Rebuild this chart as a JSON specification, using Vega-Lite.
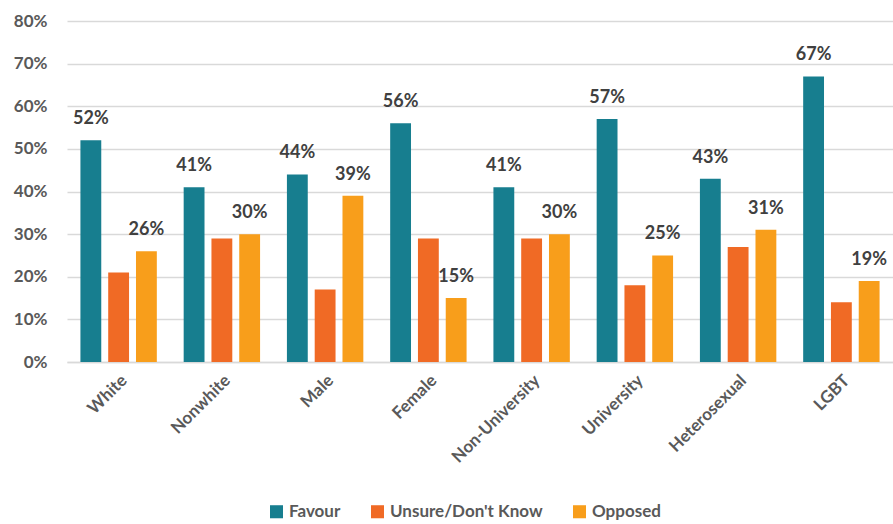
{
  "$schema": "https://vega.github.io/schema/vega-lite/v6.json",
  "width": 826,
  "height": 341,
  "autosize": "none",
  "padding": {"left": 67, "top": 21, "right": 0, "bottom": 162},
  "background": "white",
  "config": {"view": {"stroke": null}, "font": "Lato"},
  "data": {
    "values": [
      {"group": "White", "series": "Favour", "value": 0.52},
      {"group": "White", "series": "Unsure/Don't Know", "value": 0.21},
      {"group": "White", "series": "Opposed", "value": 0.26},
      {"group": "Nonwhite", "series": "Favour", "value": 0.41},
      {"group": "Nonwhite", "series": "Unsure/Don't Know", "value": 0.29},
      {"group": "Nonwhite", "series": "Opposed", "value": 0.30},
      {"group": "Male", "series": "Favour", "value": 0.44},
      {"group": "Male", "series": "Unsure/Don't Know", "value": 0.17},
      {"group": "Male", "series": "Opposed", "value": 0.39},
      {"group": "Female", "series": "Favour", "value": 0.56},
      {"group": "Female", "series": "Unsure/Don't Know", "value": 0.29},
      {"group": "Female", "series": "Opposed", "value": 0.15},
      {"group": "Non-University", "series": "Favour", "value": 0.41},
      {"group": "Non-University", "series": "Unsure/Don't Know", "value": 0.29},
      {"group": "Non-University", "series": "Opposed", "value": 0.30},
      {"group": "University", "series": "Favour", "value": 0.57},
      {"group": "University", "series": "Unsure/Don't Know", "value": 0.18},
      {"group": "University", "series": "Opposed", "value": 0.25},
      {"group": "Heterosexual", "series": "Favour", "value": 0.43},
      {"group": "Heterosexual", "series": "Unsure/Don't Know", "value": 0.27},
      {"group": "Heterosexual", "series": "Opposed", "value": 0.31},
      {"group": "LGBT", "series": "Favour", "value": 0.67},
      {"group": "LGBT", "series": "Unsure/Don't Know", "value": 0.14},
      {"group": "LGBT", "series": "Opposed", "value": 0.19}
    ]
  },
  "encoding": {
    "x": {
      "field": "group", "type": "nominal", "sort": null, "title": null,
      "scale": {"paddingInner": 0.26, "paddingOuter": 0.13},
      "axis": {
        "labelAngle": -45, "labelFontSize": 17, "labelFontWeight": "bold",
        "labelColor": "#595959", "ticks": false, "labelPadding": 10,
        "domainColor": "#d9d9d9", "domainWidth": 1.5, "labelFont": "Lato"
      }
    },
    "xOffset": {
      "field": "series", "type": "nominal", "sort": ["Favour", "Unsure/Don't Know", "Opposed"],
      "scale": {"paddingInner": 0.25}
    },
    "y": {
      "field": "value", "type": "quantitative", "title": null,
      "scale": {"domain": [0, 0.8], "nice": false},
      "axis": {
        "format": ".0%", "values": [0, 0.1, 0.2, 0.3, 0.4, 0.5, 0.6, 0.7, 0.8],
        "labelOverlap": false,
        "labelFontSize": 17, "labelFontWeight": "bold", "labelColor": "#595959",
        "domain": false, "ticks": false, "gridColor": "#d9d9d9", "gridWidth": 1.5,
        "labelPadding": 20, "labelFont": "Lato"
      }
    }
  },
  "layer": [
    {
      "mark": {"type": "bar"},
      "encoding": {
        "color": {
          "field": "series", "type": "nominal", "sort": ["Favour", "Unsure/Don't Know", "Opposed"],
          "scale": {"domain": ["Favour", "Unsure/Don't Know", "Opposed"], "range": ["#177E8F", "#F06A25", "#F89E1B"]},
          "legend": {
            "title": null, "orient": "none", "legendX": 201, "legendY": 482, "direction": "horizontal",
            "symbolType": "square", "symbolSize": 170, "symbolStrokeWidth": 0,
            "labelFontSize": 17, "labelFontWeight": "bold", "labelColor": "#595959",
            "columnPadding": 28, "labelFont": "Lato"
          }
        }
      }
    },
    {
      "transform": [{"filter": "datum.series !== \"Unsure/Don't Know\""}],
      "mark": {"type": "text", "dy": -21, "fontSize": 18, "fontWeight": "bold", "color": "#404040", "font": "Lato"},
      "encoding": {
        "text": {"field": "value", "type": "quantitative", "format": ".0%"}
      }
    }
  ]
}
